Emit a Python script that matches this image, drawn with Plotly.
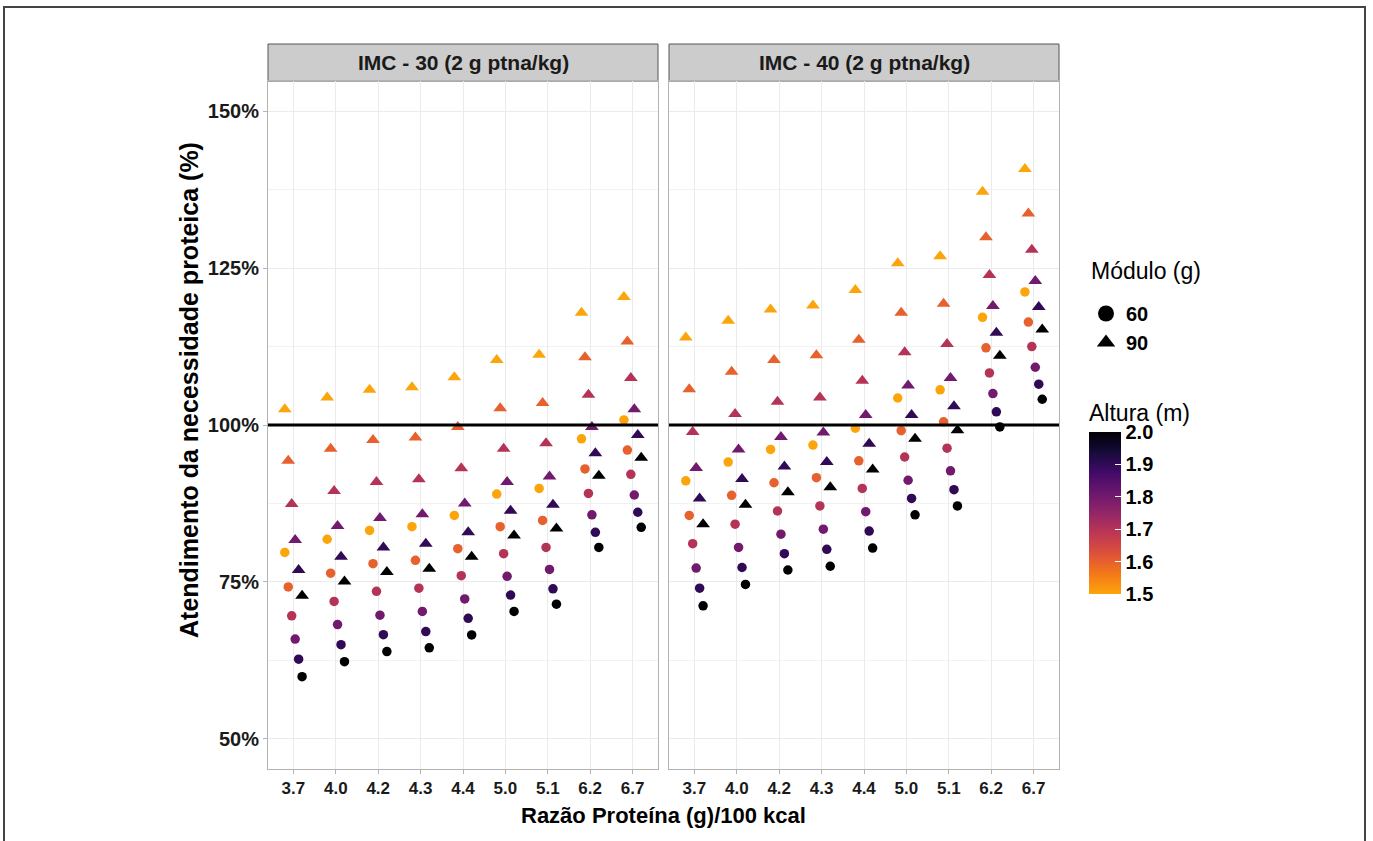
import plotly.graph_objects as go

# ---------------- data ----------------
categories = ["3.7", "4.0", "4.2", "4.3", "4.4", "5.0", "5.1", "6.2", "6.7"]
heights = [1.5, 1.6, 1.7, 1.8, 1.9, 2.0]
panels = ["IMC - 30 (2 g ptna/kg)", "IMC - 40 (2 g ptna/kg)"]
modules = ["60", "90"]
reference_level = 100

# values per category, one value per height (1.5 ... 2.0)
imc30_mod60 = [
    [79.7, 74.2, 69.6, 65.9, 62.7, 59.9],
    [81.8, 76.4, 71.9, 68.2, 65.0, 62.3],
    [83.2, 77.9, 73.5, 69.7, 66.6, 63.9],
    [83.8, 78.45, 74.0, 70.3, 67.1, 64.5],
    [85.6, 80.3, 76.0, 72.3, 69.2, 66.55],
    [89.0, 83.8, 79.5, 75.9, 72.9, 70.3],
    [89.9, 84.8, 80.5, 77.0, 73.9, 71.45],
    [97.8, 93.0, 89.1, 85.7, 82.9, 80.5],
    [100.8, 96.0, 92.15, 88.85, 86.1, 83.7],
]
imc30_mod90 = [
    [102.5, 94.3, 87.4, 81.7, 76.9, 72.8],
    [104.4, 96.2, 89.5, 83.9, 79.0, 75.05],
    [105.6, 97.6, 90.9, 85.2, 80.5, 76.6],
    [106.0, 98.0, 91.35, 85.8, 81.1, 77.1],
    [107.6, 99.7, 93.1, 87.5, 82.9, 79.0],
    [110.35, 102.65, 96.2, 90.9, 86.35, 82.4],
    [111.2, 103.5, 97.1, 91.8, 87.3, 83.5],
    [117.9, 110.8, 104.8, 99.7, 95.5, 91.9],
    [120.4, 113.3, 107.5, 102.5, 98.4, 94.8],
]
imc40_mod60 = [
    [91.1, 85.6, 81.1, 77.2, 74.0, 71.2],
    [94.1, 88.8, 84.2, 80.5, 77.3, 74.6],
    [96.1, 90.8, 86.3, 82.6, 79.5, 76.9],
    [96.8, 91.6, 87.1, 83.4, 80.2, 77.5],
    [99.5, 94.3, 89.9, 86.2, 83.1, 80.4],
    [104.3, 99.1, 94.9, 91.2, 88.3, 85.7],
    [105.6, 100.5, 96.3, 92.7, 89.7, 87.1],
    [117.15, 112.3, 108.3, 105.0, 102.1, 99.7],
    [121.2, 116.4, 112.5, 109.2, 106.5, 104.1],
]
imc40_mod90 = [
    [113.95, 105.7, 98.9, 93.15, 88.3, 84.2],
    [116.6, 108.5, 101.75, 96.1, 91.4, 87.3],
    [118.4, 110.35, 103.7, 98.1, 93.4, 89.3],
    [119.05, 111.1, 104.4, 98.8, 94.1, 90.1],
    [121.5, 113.6, 107.05, 101.6, 97.0, 92.9],
    [125.75, 117.9, 111.6, 106.3, 101.6, 97.8],
    [126.9, 119.3, 112.9, 107.5, 103.0, 99.15],
    [137.15, 129.9, 123.9, 118.95, 114.7, 111.05],
    [140.8, 133.7, 127.9, 122.95, 118.8, 115.2],
]

y_ticks = [50, 75, 100, 125, 150]
y_tick_labels = ["50%", "75%", "100%", "125%", "150%"]
color_ticks = [1.5, 1.6, 1.7, 1.8, 1.9, 2.0]

# ---------------- styling ----------------
W, H = 1373, 841
FONT = "Liberation Sans"
GRID = "#EBEBEB"
BORDER = "#B3B3B3"

# inferno (0 -> 0.8) reversed: 1.5 = orange, 2.0 = black
colorscale = [
    [0.0, "#FCA50A"], [0.125, "#F37819"], [0.25, "#DD513A"], [0.375, "#BC3754"],
    [0.5, "#932667"], [0.625, "#6A176E"], [0.75, "#420A68"], [0.875, "#160B39"],
    [1.0, "#000004"],
]

def fx(p):
    return p / W

def fy(p):
    return 1 - p / H

dodge_width = 0.49
n_h = len(heights)
offsets = [(i - (n_h - 1) / 2) * dodge_width / n_h for i in range(n_h)]

panel_data = [
    {"mod60": imc30_mod60, "mod90": imc30_mod90},
    {"mod60": imc40_mod60, "mod90": imc40_mod90},
]
symbols = {"60": "circle", "90": "triangle-up"}
sizes = {"60": 9.5, "90": 12}

fig = go.Figure()
first = True
for p_i, pdata in enumerate(panel_data):
    xa = "x" if p_i == 0 else "x2"
    ya = "y" if p_i == 0 else "y2"
    for mod in modules:
        vals = pdata["mod" + mod]
        xs, ys, cs = [], [], []
        for c_i, row in enumerate(vals):
            for h_i, v in enumerate(row):
                xs.append(c_i + offsets[h_i])
                ys.append(v)
                cs.append(heights[h_i])
        fig.add_trace(go.Scatter(
            x=xs, y=ys, mode="markers", xaxis=xa, yaxis=ya,
            showlegend=False,
            marker=dict(
                symbol=symbols[mod], size=sizes[mod], color=cs,
                colorscale=colorscale, cmin=1.5, cmax=2.0,
                line=dict(width=0),
                showscale=first,
                colorbar=dict(
                    title=dict(text="Altura (m)", side="top",
                               font=dict(family=FONT, size=23, color="black")),
                    x=fx(1089), xanchor="left", xpad=0,
                    y=fy(401), yanchor="top", ypad=0,
                    len=(594 - 401) / H, lenmode="fraction", thickness=32,
                    outlinewidth=0,
                    tickvals=color_ticks,
                    ticktext=["%.1f" % t for t in color_ticks],
                    ticks="inside", ticklen=6, tickcolor="white", tickwidth=1,
                    tickfont=dict(family=FONT, size=20, color="black", weight="bold"),
                ),
            ),
        ))
        first = False

# legend entries for module shape
for mod in modules:
    fig.add_trace(go.Scatter(
        x=[None], y=[None], mode="markers", name=mod,
        marker=dict(symbol=symbols[mod], size=16, color="black"),
        legendgroup="mod", showlegend=True,
    ))

axis_common = dict(
    range=[-0.6, len(categories) - 1 + 0.6],
    tickvals=list(range(len(categories))), ticktext=categories,
    showgrid=True, gridcolor=GRID, gridwidth=1, zeroline=False,
    ticks="outside", ticklen=4, tickcolor=BORDER,
    showline=True, mirror=True, linecolor=BORDER, linewidth=1,
    tickfont=dict(family=FONT, size=17, color="#1a1a1a", weight="bold"),
    fixedrange=True,
)
yaxis_common = dict(
    range=[45.2, 154.8], domain=[fy(769), fy(81)],
    tickvals=y_ticks, ticktext=y_tick_labels,
    showgrid=True, gridcolor=GRID, gridwidth=1, zeroline=False,
    minor=dict(tickvals=[62.5, 87.5, 112.5, 137.5], showgrid=True,
               gridcolor="#F2F2F2", gridwidth=1, ticks=""),
    showline=True, mirror=True, linecolor=BORDER, linewidth=1,
    tickfont=dict(family=FONT, size=20, color="#1a1a1a", weight="bold"),
    fixedrange=True,
)

fig.update_layout(
    width=W, height=H,
    margin=dict(l=0, r=0, t=0, b=0),
    paper_bgcolor="white", plot_bgcolor="white",
    font=dict(family=FONT, color="black"),
    xaxis=dict(domain=[fx(268), fx(658)], anchor="y", **axis_common),
    xaxis2=dict(domain=[fx(669), fx(1059)], anchor="y2", **axis_common),
    yaxis=dict(anchor="x", ticks="outside", ticklen=4, tickcolor=BORDER, **yaxis_common),
    yaxis2=dict(anchor="x2", matches="y", showticklabels=False, ticks="", **yaxis_common),
    legend=dict(
        x=fx(1086), xanchor="left", y=fy(294), yanchor="top",
        font=dict(family=FONT, size=20, color="black", weight="bold"),
        bgcolor="rgba(0,0,0,0)", tracegroupgap=0,
    ),
    showlegend=True,
)

# legend title
fig.add_annotation(x=fx(1089), y=fy(271), xref="paper", yref="paper",
                   text="Módulo (g)", showarrow=False, xanchor="left", yanchor="middle",
                   font=dict(family=FONT, size=23, color="black"))

shapes = []
# outer frame
shapes.append(dict(type="rect", xref="paper", yref="paper",
                   x0=fx(4), x1=fx(1365), y0=-0.05, y1=fy(7),
                   line=dict(color="#444444", width=2), fillcolor="rgba(0,0,0,0)",
                   layer="above"))
# reference line at 100 %
for xr, yr in [("x domain", "y"), ("x2 domain", "y2")]:
    shapes.append(dict(type="line", xref=xr, yref=yr, x0=0, x1=1,
                       y0=reference_level, y1=reference_level,
                       line=dict(color="black", width=3.2), layer="above"))
# strips
strip_x = [(268, 658), (669, 1059)]
for (x0, x1), label in zip(strip_x, panels):
    shapes.append(dict(type="rect", xref="paper", yref="paper",
                       x0=fx(x0), x1=fx(x1), y0=fy(81), y1=fy(44),
                       fillcolor="#CCCCCC", line=dict(color="#555555", width=1),
                       layer="below"))
    fig.add_annotation(x=fx((x0 + x1) / 2), y=fy(62.5), xref="paper", yref="paper",
                       text=label, showarrow=False, xanchor="center", yanchor="middle",
                       font=dict(family=FONT, size=21, color="#1a1a1a", weight="bold"))
fig.update_layout(shapes=shapes)

# axis titles
fig.add_annotation(x=fx(663), y=fy(815), xref="paper", yref="paper",
                   text="Razão Proteína (g)/100 kcal", showarrow=False,
                   xanchor="center", yanchor="middle",
                   font=dict(family=FONT, size=22, color="black", weight="bold"))
fig.add_annotation(x=fx(189), y=fy(390), xref="paper", yref="paper",
                   text="Atendimento da necessidade proteica (%)", showarrow=False,
                   textangle=-90, xanchor="center", yanchor="middle",
                   font=dict(family=FONT, size=25, color="black", weight="bold"))

fig.write_html("out.html")
